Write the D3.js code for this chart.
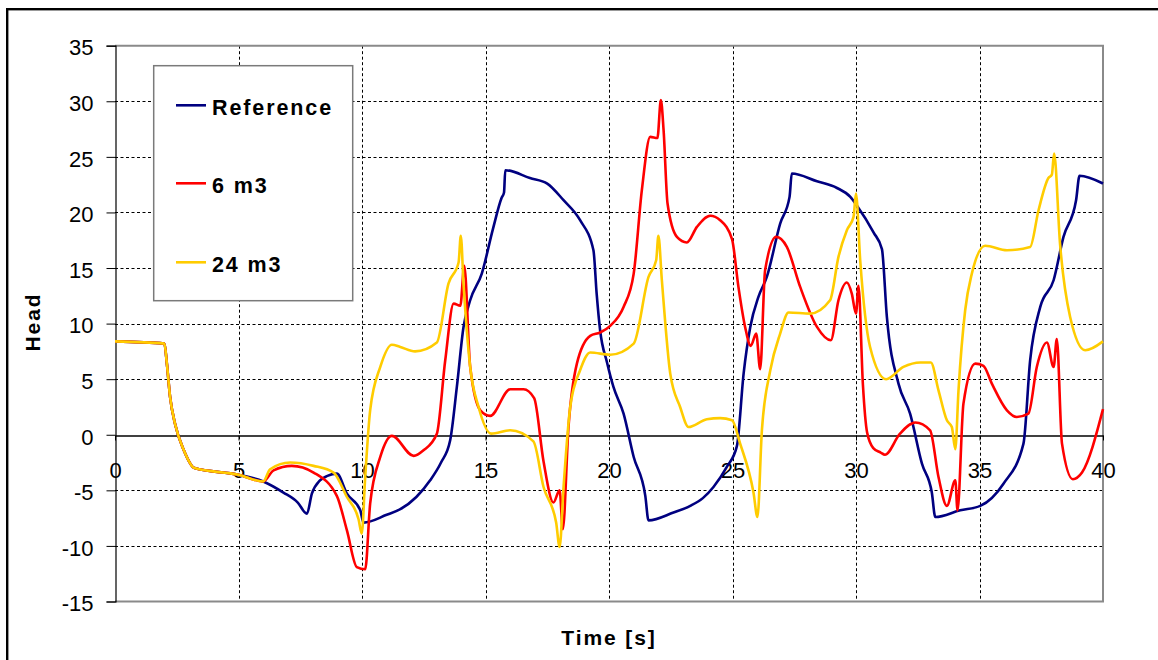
<!DOCTYPE html>
<html>
<head>
<meta charset="utf-8">
<script src="https://cdn.jsdelivr.net/npm/d3@7"></script>
<style>
  html, body { margin: 0; padding: 0; background: #fff; }
  svg { display: block; }
  text { font-family: "Liberation Sans", Arial, sans-serif; fill: #000; }
</style>
</head>
<body>
<svg id="chart" width="1158" height="660"></svg>
<script>
// Head over time for the reference case and two air-vessel volumes
const seriesNames = ["Reference", "6 m3", "24 m3"];
const seriesColors = ["#000080", "#FF0000", "#FFCC00"];

// common start-up part (all three runs coincide until ~6 s)
const startT = [0, 2.0, 2.1, 2.23, 2.44, 2.77, 3.22, 5.0, 6.0];
const startH = [8.4, 8.2, 6.4, 3.4, 0.9, -1.3, -3.0, -3.6, -4.2];

const refT = [6.82, 7.4, 7.77, 7.97, 8.3, 8.6, 8.98, 9.39, 9.93, 10.06, 11.0, 11.55, 12.2, 12.76, 13.2, 13.57,
  13.84, 14.11, 14.38, 14.85, 15.3, 15.65, 15.75, 15.8, 16.8, 17.5, 18.16, 18.83, 19.37, 19.5, 19.64, 19.92,
  20.18, 20.59, 21.0, 21.47, 21.6, 22.61, 23.29, 23.8, 24.23, 24.77, 25.18, 25.45, 25.72, 26.05, 26.39,
  26.93, 27.31, 27.4, 28.42, 29.23, 29.77, 30.04, 30.71, 31.05, 31.25, 31.72, 32.19, 32.67, 33.07, 33.21,
  34.22, 35.03, 35.97, 36.78, 37.05, 37.46, 38.0, 38.4, 38.91, 39.05, 40.0];
const refH = [-5.2, -6.1, -7.1, -5.3, -4.1, -3.7, -3.5, -5.3, -6.8, -7.9, -7.2, -6.7, -5.6, -4.1, -2.5, -0.5,
  4.3, 9.7, 12.1, 14.5, 18.5, 21.3, 21.8, 23.8, 23.1, 22.6, 21.1, 19.3, 16.6, 12.7, 9.4, 6.5,
  4.3, 1.9, -2.0, -5.5, -7.7, -7.0, -6.4, -5.7, -4.7, -2.9, -1.0, 5.5, 9.7, 12.4, 14.2,
  19.0, 21.4, 23.5, 22.8, 22.2, 21.4, 20.6, 18.2, 16.7, 10.6, 4.6, 1.9, -2.6, -5.2, -7.4,
  -6.8, -6.4, -4.4, -0.8, 6.7, 11.5, 13.9, 17.8, 21.1, 23.3, 22.6];

const v6T = [6.42, 7.16, 8.04, 8.98, 9.39, 9.79, 10.13, 10.33, 10.74, 11.21, 12.09, 12.49, 13.03, 13.37, 13.71,
  13.98, 14.14, 14.38, 14.79, 15.19, 16.0, 16.54, 16.97, 17.35, 17.75, 18.0, 18.13, 18.36, 18.7, 19.24,
  19.64, 20.05, 20.59, 21.0, 21.33, 21.67, 21.96, 22.1, 22.21, 22.37, 22.75, 23.15, 23.56, 24.1, 24.5,
  24.98, 25.24, 25.51, 25.74, 25.96, 26.12, 26.32, 26.77, 27.2, 27.74, 28.42, 28.98, 29.29, 29.63, 29.83,
  30.0, 30.1, 30.28, 30.45, 30.7, 31.0, 31.17, 31.78, 32.4, 33.0, 33.34, 33.68, 34.02, 34.11, 34.35,
  34.83, 35.16, 35.5, 36.11, 36.51, 36.98, 37.32, 37.73, 38.0, 38.13, 38.34, 38.78, 39.15, 40.0];
const v6H = [-3.2, -2.8, -3.4, -5.5, -8.6, -11.9, -12.1, -6.2, -2.0, -0.1, -1.9, -1.4, 0.1, 6.7, 11.8,
  11.6, 15.2, 6.1, 2.2, 1.7, 4.1, 4.1, 3.3, -2.4, -6.1, -5.0, -8.5, 0.7, 6.4, 8.9,
  9.2, 9.8, 11.5, 14.5, 22.0, 26.8, 26.7, 30.1, 27.4, 20.8, 17.8, 17.3, 18.7, 19.7, 19.3,
  17.6, 13.3, 9.7, 8.0, 9.1, 5.9, 14.8, 17.8, 16.9, 13.3, 9.7, 8.5, 12.1, 13.7, 12.7,
  10.9, 13.4, 4.5, 0.2, -1.2, -1.6, -1.8, 0.1, 1.1, 0.4, -3.8, -6.4, -4.1, -6.8, 2.8,
  6.4, 6.2, 4.6, 2.2, 1.6, 1.9, 6.1, 8.3, 6.1, 8.6, -0.8, -4.0, -3.4, 2.3];

const v24T = [6.28, 7.09, 8.04, 8.85, 9.39, 9.86, 9.99, 10.13, 10.33, 10.74, 11.21, 11.55, 12.15, 13.03, 13.5,
  13.91, 14.0, 14.11, 14.38, 14.72, 15.23, 16.0, 16.94, 17.35, 17.86, 18.0, 18.16, 18.43, 18.83, 19.24,
  20.05, 21.0, 21.6, 21.91, 22.0, 22.14, 22.48, 22.88, 23.22, 23.96, 24.5, 24.98, 25.31, 25.85, 26.01,
  26.19, 26.53, 26.93, 27.27, 28.14, 28.95, 29.29, 29.63, 29.9, 30.0, 30.17, 30.57, 31.22, 31.92, 32.6,
  33.03, 33.34, 33.68, 33.88, 34.02, 34.15, 34.42, 34.69, 35.23, 36.11, 37.05, 37.39, 37.79, 37.93, 38.02,
  38.26, 38.67, 39.28, 40.0];
const v24H = [-3.1, -2.5, -2.8, -3.4, -5.6, -7.6, -8.9, -3.8, 2.2, 6.1, 8.1, 7.9, 7.5, 8.3, 13.6,
  15.5, 17.9, 13.6, 6.1, 2.5, 0.1, 0.4, -0.6, -4.7, -7.9, -10.1, -4.7, 2.5, 5.8, 7.4,
  7.2, 8.2, 14.2, 15.7, 17.9, 13.9, 5.5, 2.5, 0.7, 1.4, 1.5, 1.3, -0.8, -5.2, -7.4,
  0.4, 5.8, 9.1, 11.0, 10.9, 12.1, 16.0, 18.4, 19.6, 21.7, 15.7, 7.9, 5.0, 6.1, 6.5,
  6.5, 4.0, 1.3, 0.7, -1.3, 4.0, 11.2, 14.5, 17.0, 16.6, 16.9, 20.2, 23.1, 23.4, 25.3,
  17.2, 10.6, 7.6, 8.4];

const xTicks = [0, 5, 10, 15, 20, 25, 30, 35, 40];
const yTicks = [-15, -10, -5, 0, 5, 10, 15, 20, 25, 30, 35];

function zip(ts, hs) { return ts.map((t, i) => ({ t, h: hs[i] })); }
const start = zip(startT, startH);
const seriesData = [
  start.concat(zip(refT, refH)),
  start.concat(zip(v6T, v6H)),
  start.concat(zip(v24T, v24H))
];

const svg = d3.select("#chart");
const plot = { left: 115, right: 1103, top: 45.7, bottom: 601.5 };

const x = d3.scaleLinear().domain([0, 40]).range([plot.left, plot.right]);
const y = d3.scaleLinear().domain([-15, 35]).range([plot.bottom, plot.top]);

// outer frame of the chart
svg.append("rect")
  .attr("x", 7.2).attr("y", 9.2).attr("width", 1200).attr("height", 700)
  .attr("fill", "none").attr("stroke", "#000").attr("stroke-width", 2.4);

// dashed grid
const grid = svg.append("g");
grid.selectAll("line.h").data(yTicks.filter(v => v !== 35 && v !== -15 && v !== 0)).join("line")
  .attr("x1", plot.left).attr("x2", plot.right)
  .attr("y1", d => Math.round(y(d)) + 0.5).attr("y2", d => Math.round(y(d)) + 0.5)
  .attr("stroke", "#000").attr("stroke-width", 1).attr("stroke-dasharray", "3,2.5");
grid.selectAll("line.v").data(xTicks.filter(v => v > 0 && v < 40)).join("line")
  .attr("x1", d => Math.round(x(d)) + 0.5).attr("x2", d => Math.round(x(d)) + 0.5)
  .attr("y1", plot.top).attr("y2", plot.bottom)
  .attr("stroke", "#000").attr("stroke-width", 1).attr("stroke-dasharray", "3,2.5");

// plot-area border (top, right, bottom)
svg.append("path")
  .attr("d", `M${plot.left},${plot.top}H${plot.right}V${plot.bottom}H${plot.left}`)
  .attr("fill", "none").attr("stroke", "#8a8a8a").attr("stroke-width", 2);

// y axis
const plainNum = d => String(d);
const yAxis = d3.axisLeft(y).tickValues(yTicks).tickSize(9).tickPadding(13).tickFormat(plainNum);
const gy = svg.append("g").attr("transform", `translate(${plot.left + 0.5},0)`).call(yAxis);
gy.select(".domain").attr("stroke", "#000").attr("stroke-width", 1.2);
gy.selectAll(".tick line").attr("stroke", "#000").attr("stroke-width", 1);
gy.selectAll(".tick text")
  .attr("font-size", 22).attr("font-family", "'Liberation Sans', Arial, sans-serif")
  .attr("dy", "0.42em").attr("x", -22);

// x axis along the zero line
const xAxis = d3.axisBottom(x).tickValues(xTicks).tickSize(5).tickPadding(12).tickSizeOuter(0).tickFormat(plainNum);
const gx = svg.append("g").attr("transform", `translate(0,${Math.round(y(0)) + 0.5})`).call(xAxis);
gx.select(".domain").attr("stroke", "#000").attr("stroke-width", 1.3);
gx.selectAll(".tick line").attr("stroke", "#000").attr("stroke-width", 1);
gx.selectAll(".tick text")
  .attr("font-size", 22).attr("font-family", "'Liberation Sans', Arial, sans-serif")
  .attr("y", 42.5).attr("dy", 0);

// series lines
const line = d3.line().x(d => x(d.t)).y(d => y(d.h)).curve(d3.curveMonotoneX);
svg.append("g").selectAll("path").data(seriesData).join("path")
  .attr("d", line)
  .attr("fill", "none")
  .attr("stroke", (d, i) => seriesColors[i])
  .attr("stroke-width", 2.6)
  .attr("stroke-linejoin", "round");

// legend
const legend = svg.append("g");
legend.append("rect")
  .attr("x", 153.7).attr("y", 65.7).attr("width", 199).attr("height", 235)
  .attr("fill", "#fff").attr("stroke", "#7a7a7a").attr("stroke-width", 1.5);
const legendY = [105.3, 183.3, 262.3];
seriesNames.forEach((name, i) => {
  legend.append("line")
    .attr("x1", 176).attr("x2", 206).attr("y1", legendY[i]).attr("y2", legendY[i])
    .attr("stroke", seriesColors[i]).attr("stroke-width", 2.6);
  legend.append("text")
    .attr("x", 212).attr("y", legendY[i] + 9.8)
    .attr("font-size", 21.5).attr("font-weight", "bold").attr("letter-spacing", 1.9)
    .text(name);
});

// axis titles
svg.append("text")
  .attr("x", 609).attr("y", 644.5).attr("text-anchor", "middle")
  .attr("font-size", 21).attr("font-weight", "bold").attr("letter-spacing", 1.9)
  .text("Time [s]");
svg.append("text")
  .attr("transform", "translate(40,322) rotate(-90)")
  .attr("text-anchor", "middle")
  .attr("font-size", 21).attr("font-weight", "bold").attr("letter-spacing", 1.9)
  .text("Head");
</script>
</body>
</html>
